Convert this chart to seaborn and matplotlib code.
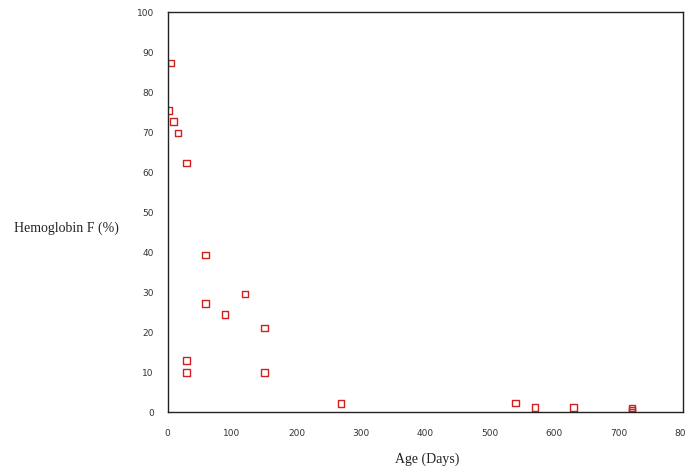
import matplotlib
matplotlib.use("Agg")
import matplotlib.pyplot as plt
import seaborn as sns
import pandas as pd

# Data
age_days = [5, 2, 9, 16, 29, 59, 59, 120, 89, 150, 29, 29, 150, 269,
            540, 570, 630, 721, 721, 721]
hb_f = [87.3, 75.4, 72.7, 69.8, 62.4, 39.4, 27.2, 29.6, 24.5, 21.1, 13.0, 10.0, 10.0, 2.2,
        2.4, 1.3, 1.3, 1.1, 0.6, 0.1]
x_ticks = [0, 100, 200, 300, 400, 500, 600, 700, 800]
y_ticks = [0, 10, 20, 30, 40, 50, 60, 70, 80, 90, 100]

df = pd.DataFrame({"Age (Days)": age_days, "Hemoglobin F (%)": hb_f})

sns.set_style("white")
fig = plt.figure(figsize=(6.85, 4.69), dpi=100)
ax = fig.add_axes([0.2447, 0.1205, 0.7523, 0.8533])

sns.scatterplot(data=df, x="Age (Days)", y="Hemoglobin F (%)", ax=ax,
                marker="s", s=22, facecolors="none", edgecolor="#d02020",
                linewidth=1.0)

ax.set_xlim(0, 800)
ax.set_ylim(0, 100)
ax.set_xticks(x_ticks)
ax.set_yticks(y_ticks)
ax.tick_params(axis="both", direction="out", length=4, width=1, color="#333333",
               labelsize=6.5, labelcolor="#333333", pad=3)
ax.tick_params(axis="x", pad=8)
ax.tick_params(axis="y", pad=6)
for sp in ax.spines.values():
    sp.set_color("#222222")
    sp.set_linewidth(1.0)

ax.set_xlabel("")
ax.set_ylabel("")
fig.text(0.623, 1 - 459 / 469, "Age (Days)", family="Liberation Serif",
         fontsize=10, ha="center", va="center", color="#222222")
fig.text(14 / 685, 1 - 228 / 469, "Hemoglobin F (%)", family="Liberation Serif",
         fontsize=10, ha="left", va="center", color="#222222")

fig.savefig("out.png", dpi=100)
